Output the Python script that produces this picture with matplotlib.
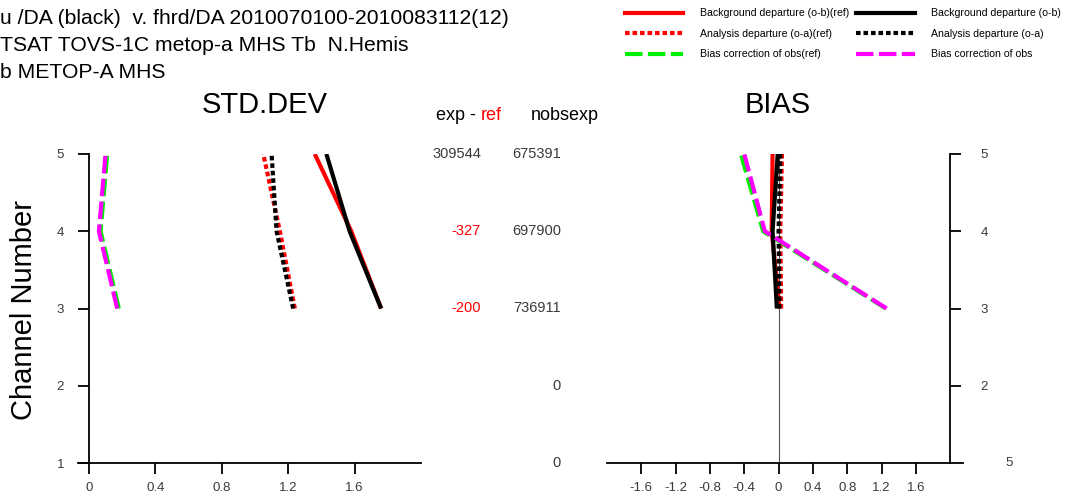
import matplotlib.pyplot as plt
from matplotlib.lines import Line2D
from matplotlib.transforms import blended_transform_factory

plt.rcParams['font.family'] = ['Liberation Sans', 'DejaVu Sans']

# channels (y axis) and statistics
channels = [3, 4, 5]

std_ob_ref = [1.76, 1.58, 1.36]
std_ob_exp = [1.76, 1.57, 1.43]
std_oa_ref = [1.24, 1.15, 1.05]
std_oa_exp = [1.23, 1.13, 1.10]
std_bc_ref = [0.18, 0.07, 0.11]
std_bc_exp = [0.17, 0.06, 0.10]

bias_ob_ref = [0.01, -0.08, -0.07]
bias_ob_exp = [-0.02, -0.07, -0.01]
bias_oa_ref = [0.03, 0.02, 0.04]
bias_oa_exp = [0.01, 0.00, 0.02]
bias_bc_ref = [1.25, -0.18, -0.44]
bias_bc_exp = [1.26, -0.16, -0.40]

# count columns
count_channels = [5, 4, 3, 2, 1]
exp_minus_ref = ['309544', '-327', '-200', '', '']
nobsexp = ['675391', '697900', '736911', '0', '0']

title_lines = ['u /DA (black)  v. fhrd/DA 2010070100-2010083112(12)',
               'TSAT TOVS-1C metop-a MHS Tb  N.Hemis',
               'b METOP-A MHS']

W, H = 1068, 497
fig = plt.figure(figsize=(W / 100, H / 100), dpi=100)

def px_axes(x0, x1, ytop, ybot):
    return fig.add_axes([x0 / W, 1 - ybot / H, (x1 - x0) / W, (ybot - ytop) / H])

dot = (0, (1.1, 0.7))
dash = (0, (4.2, 1.3))
lw = 3.0
gray = '#3a3a3a'

styles = [
    ('Background departure (o-b)(ref)', 'red', '-'),
    ('Analysis departure (o-a)(ref)', 'red', dot),
    ('Bias correction of obs(ref)', '#00ee00', dash),
    ('Background departure (o-b)', 'black', '-'),
    ('Analysis departure (o-a)', 'black', dot),
    ('Bias correction of obs', 'magenta', dash),
]

# ---- left panel: STD.DEV
ax1 = px_axes(78, 421, 154, 463)
ax1.set_xlim(-0.066, 2.0)
ax1.set_ylim(1, 5)
for vals, (lab, col, ls) in zip(
        [std_ob_ref, std_oa_ref, std_bc_ref, std_ob_exp, std_oa_exp, std_bc_exp],
        styles):
    ax1.plot(vals, channels, color=col, linestyle=ls, linewidth=lw,
             solid_capstyle='butt', dash_capstyle='butt')
ax1.spines['right'].set_visible(False)
ax1.spines['top'].set_visible(False)
ax1.spines['left'].set_position(('data', 0))
ax1.set_xticks([0, 0.4, 0.8, 1.2, 1.6])
ax1.set_xticklabels(['0', '0.4', '0.8', '1.2', '1.6'])
ax1.set_yticks([1, 2, 3, 4, 5])
ax1.tick_params(direction='out', length=8, width=1.3, labelsize=9.5,
                labelcolor=gray, pad=10)
ax1.tick_params(axis='x', pad=6)
for s in ['left', 'bottom']:
    ax1.spines[s].set_linewidth(1.3)

fig.text(24 / W, 1 - 310 / H, 'Channel Number', rotation=90, fontsize=21,
         ha='center', va='center')
fig.text(265 / W, 1 - 105 / H, 'STD.DEV', fontsize=21, ha='center', va='center')

# count columns
tr = blended_transform_factory(fig.transFigure, ax1.transData)
for ch, d, n in zip(count_channels, exp_minus_ref, nobsexp):
    col = 'red' if d.startswith('-') else gray
    fig.text(481 / W, ch, d, transform=tr, ha='right', va='center',
             fontsize=10.5, color=col)
    fig.text(561 / W, ch, n, transform=tr, ha='right', va='center',
             fontsize=10.5, color=gray)
fig.text(476 / W, 1 - 115 / H, 'exp -', fontsize=13, ha='right', va='center')
fig.text(481 / W, 1 - 115 / H, 'ref', fontsize=13, ha='left', va='center',
         color='red')
fig.text(531 / W, 1 - 115 / H, 'nobsexp', fontsize=13, ha='left', va='center')

# ---- right panel: BIAS
ax2 = px_axes(607, 963, 154, 463)
ax2.set_xlim(-2.0, 2.15)
ax2.set_ylim(1, 5)
ax2.axvline(0, color='#555555', linewidth=0.8)
for vals, (lab, col, ls) in zip(
        [bias_ob_ref, bias_oa_ref, bias_bc_ref, bias_ob_exp, bias_oa_exp, bias_bc_exp],
        styles):
    ax2.plot(vals, channels, color=col, linestyle=ls, linewidth=lw,
             solid_capstyle='butt', dash_capstyle='butt')
ax2.spines['left'].set_visible(False)
ax2.spines['top'].set_visible(False)
ax2.spines['right'].set_position(('data', 2.0))
ax2.yaxis.tick_right()
ax2.set_xticks([-1.6, -1.2, -0.8, -0.4, 0, 0.4, 0.8, 1.2, 1.6])
ax2.set_xticklabels(['-1.6', '-1.2', '-0.8', '-0.4', '0', '0.4', '0.8', '1.2', '1.6'])
ax2.set_yticks([2, 3, 4, 5])
ax2.tick_params(direction='out', length=8, width=1.3, labelsize=9.5,
                labelcolor=gray, pad=14)
ax2.tick_params(axis='x', pad=6)
for s in ['right', 'bottom']:
    ax2.spines[s].set_linewidth(1.3)
fig.text(778 / W, 1 - 105 / H, 'BIAS', fontsize=21, ha='center', va='center')
ax2.text(1009 / W, 1, '5', transform=blended_transform_factory(fig.transFigure, ax2.transData),
         ha='center', va='center', fontsize=9.5, color=gray)

# ---- header text
for i, line in enumerate(title_lines):
    fig.text(0.0, 1 - (18 + 27.5 * i) / H, line, fontsize=15.2, ha='left',
             va='center')

handles = [Line2D([], [], color=c, linestyle=ls, linewidth=lw) for _, c, ls in styles]
labels = [l for l, _, _ in styles]
fig.legend(handles, labels, ncol=2, frameon=False, fontsize=7.6,
           loc='upper left', bbox_to_anchor=(619 / W, 1 - 2 / H),
           handlelength=5.5, handletextpad=1.6, columnspacing=0.66,
           labelspacing=0.99, borderaxespad=0.2)

fig.savefig('out.png', dpi=100)
